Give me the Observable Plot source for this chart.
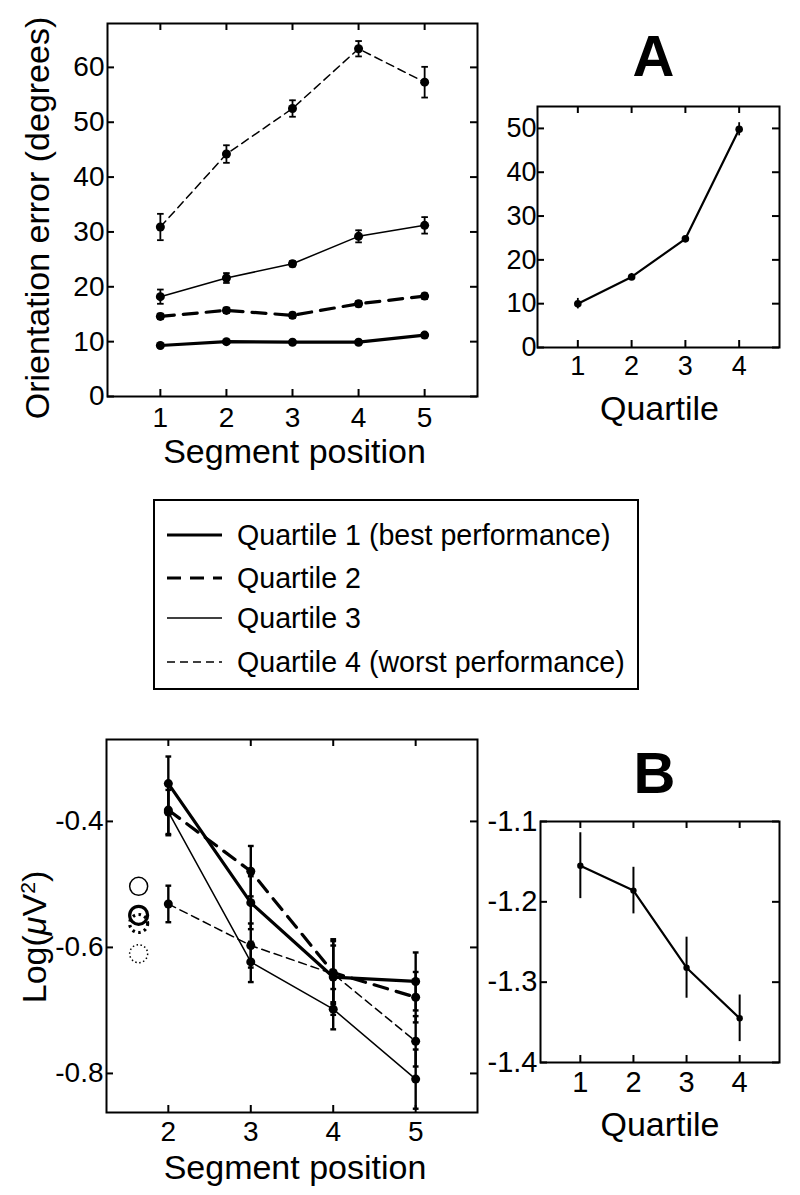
<!DOCTYPE html>
<html><head><meta charset="utf-8">
<script src="https://cdn.jsdelivr.net/npm/d3@7"></script>
<script src="https://cdn.jsdelivr.net/npm/@observablehq/plot@0.6"></script>
<style>
body{margin:0;background:#fff;}
#wrap{position:relative;width:800px;height:1195px;background:#fff;font-family:"Liberation Sans",Arial,Helvetica,sans-serif;}
#wrap svg.panel{position:absolute;overflow:visible;}
.legend{position:absolute;left:153px;top:499px;width:486px;height:191px;border:2px solid #000;box-sizing:border-box;background:#fff;}
.row{position:absolute;left:0;height:28px;width:100%;}
.row svg{position:absolute;left:12px;top:0;}
.row span{position:absolute;left:82px;top:0;font-size:28.6px;line-height:28px;white-space:nowrap;color:#000;}
</style></head><body><div id="wrap"></div><script>
// ---------- data (panel A) ----------
const segPosA = [1, 2, 3, 4, 5];
const orientQ1 = [9.3, 10.0, 9.9, 9.9, 11.2];
const orientQ1Err = [0.3, 0.3, 0.3, 0.3, 0.4];
const orientQ2 = [14.6, 15.7, 14.8, 16.9, 18.3];
const orientQ2Err = [0.5, 0.5, 0.5, 0.5, 0.5];
const orientQ3 = [18.2, 21.6, 24.2, 29.2, 31.2];
const orientQ3Err = [1.3, 0.9, 0.5, 1.1, 1.5];
const orientQ4 = [30.9, 44.2, 52.5, 63.4, 57.3];
const orientQ4Err = [2.4, 1.6, 1.5, 1.4, 2.8];
const quartilesA = [1, 2, 3, 4];
const orientByQuartile = [10.0, 16.1, 24.8, 49.8];
const orientByQuartileErr = [1.2, 0.8, 0.5, 1.5];
// ---------- data (panel B) ----------
const segPosB = [2, 3, 4, 5];
const powQ1 = [-0.340, -0.529, -0.647, -0.654];
const powQ1Err = [0.043, 0.042, 0.060, 0.046];
const powQ2 = [-0.382, -0.479, -0.640, -0.679];
const powQ2Err = [0.040, 0.040, 0.050, 0.040];
const powQ3 = [-0.385, -0.623, -0.698, -0.809];
const powQ3Err = [0.035, 0.032, 0.032, 0.047];
const powQ4 = [-0.531, -0.597, -0.642, -0.749];
const powQ4Err = [0.029, 0.035, 0.045, 0.040];
const baselinePos = 1.64;
const baselinePow = [-0.549, -0.562, -0.503, -0.610];
const quartilesB = [1, 2, 3, 4];
const powByQuartile = [-1.155, -1.186, -1.282, -1.345];
const powByQuartileErr = [0.041, 0.029, 0.038, 0.029];
// ---------- tick values & labels ----------
const ticksA1x = [1, 2, 3, 4, 5];
const ticksA1y = [0, 10, 20, 30, 40, 50, 60];
const ticksA2x = [1, 2, 3, 4];
const ticksA2y = [0, 10, 20, 30, 40, 50];
const ticksB1x = [2, 3, 4, 5];
const ticksB1y = [-0.8, -0.6, -0.4];
const ticksB2x = [1, 2, 3, 4];
const ticksB2y = [-1.4, -1.3, -1.2, -1.1];
const legendLabels = ["Quartile 1 (best performance)", "Quartile 2", "Quartile 3", "Quartile 4 (worst performance)"];

// ---------- styles ----------
const FONT = '"Liberation Sans", Arial, Helvetica, sans-serif';
const seriesStyle = [
  {sw: 3.2, dash: null},
  {sw: 3.2, dash: "14,9"},
  {sw: 1.5, dash: null},
  {sw: 1.5, dash: "8,5"}
];
const wrap = document.getElementById("wrap");
const rows = (xs, ys, es) => xs.map((x, i) => ({x, y: ys[i], e: es[i]}));

function errMarks(data, cap, sw) {
  const m = [Plot.ruleX(data, {x: "x", y1: d => d.y - d.e, y2: d => d.y + d.e, stroke: "black", strokeWidth: sw})];
  if (cap > 0) {
    m.push(Plot.link(data, {x1: d => d.x - cap, x2: d => d.x + cap, y1: d => d.y + d.e, y2: d => d.y + d.e, stroke: "black", strokeWidth: sw}));
    m.push(Plot.link(data, {x1: d => d.x - cap, x2: d => d.x + cap, y1: d => d.y - d.e, y2: d => d.y - d.e, stroke: "black", strokeWidth: sw}));
  }
  return m;
}

function panel(o) {
  const fw = o.width - o.m[3] - o.m[1], fh = o.height - o.m[0] - o.m[2];
  const svg = Plot.plot({
    width: o.width, height: o.height,
    marginTop: o.m[0], marginRight: o.m[1], marginBottom: o.m[2], marginLeft: o.m[3],
    style: {fontFamily: FONT, fontSize: o.tickFont + "px", color: "black", background: "transparent", overflow: "visible"},
    x: {domain: o.xDomain, ticks: o.xTicks, tickSize: 0, tickPadding: o.padX, label: null, tickFormat: d => String(d)},
    y: {domain: o.yDomain, ticks: o.yTicks, tickSize: 0, tickPadding: o.padY, label: null, tickFormat: d => String(d)},
    marks: [
      ...o.marks,
      Plot.tickX(o.xTicks, {x: d => d, insetTop: fh - 7, strokeWidth: 2, stroke: "black"}),
      Plot.tickX(o.xTicks, {x: d => d, insetBottom: fh - 7, strokeWidth: 2, stroke: "black"}),
      Plot.tickY(o.yTicks, {y: d => d, insetLeft: fw - 7, strokeWidth: 2, stroke: "black"}),
      Plot.tickY(o.yTicks, {y: d => d, insetRight: fw - 7, strokeWidth: 2, stroke: "black"}),
      Plot.frame({stroke: "black", strokeWidth: 2})
    ]
  });
  svg.classList.add("panel");
  svg.style.left = o.left + "px";
  svg.style.top = o.top + "px";
  wrap.appendChild(svg);
  return svg;
}

// ---------- Panel A, left ----------
const seriesA = [
  rows(segPosA, orientQ1, orientQ1Err),
  rows(segPosA, orientQ2, orientQ2Err),
  rows(segPosA, orientQ3, orientQ3Err),
  rows(segPosA, orientQ4, orientQ4Err)
];
const marksA1 = [];
seriesA.forEach((s, i) => {
  marksA1.push(...errMarks(s, 0.05, 1.8));
  marksA1.push(Plot.line(s, {x: "x", y: "y", stroke: "black", strokeWidth: seriesStyle[i].sw, strokeDasharray: seriesStyle[i].dash}));
  marksA1.push(Plot.dot(s, {x: "x", y: "y", r: 4.5, fill: "black"}));
});
marksA1.push(Plot.text(["Segment position"], {frameAnchor: "bottom", textAnchor: "middle", lineAnchor: "bottom", dx: 2, dy: 66, fontSize: 34}));
marksA1.push(Plot.text(["Orientation error (degrees)"], {frameAnchor: "left", textAnchor: "middle", lineAnchor: "middle", rotate: -90, dx: -69, dy: 8, fontSize: 34}));
panel({left: 0, top: 0, width: 480, height: 470, m: [23, 3, 74, 107],
  xDomain: [0.2, 5.8], yDomain: [0, 68], xTicks: ticksA1x, yTicks: ticksA1y,
  tickFont: 28, padX: 11, padY: 3, marks: marksA1});

// ---------- Panel A, right ----------
const byQA = rows(quartilesA, orientByQuartile, orientByQuartileErr);
panel({left: 480, top: 0, width: 320, height: 430, m: [106, 21, 83, 57],
  xDomain: [0.25, 4.75], yDomain: [0, 55], xTicks: ticksA2x, yTicks: ticksA2y,
  tickFont: 27, padX: 8, padY: 1,
  marks: [
    ...errMarks(byQA, 0, 1.8),
    Plot.line(byQA, {x: "x", y: "y", stroke: "black", strokeWidth: 2.2}),
    Plot.dot(byQA, {x: "x", y: "y", r: 3.8, fill: "black"}),
    Plot.text(["A"], {frameAnchor: "top", textAnchor: "middle", lineAnchor: "bottom", dx: -5, dy: -31, fontSize: 58, fontWeight: "bold"}),
    Plot.text(["Quartile"], {frameAnchor: "bottom", textAnchor: "middle", lineAnchor: "bottom", dx: 1, dy: 72, fontSize: 34})
  ]});

// ---------- Panel B, left ----------
const seriesB = [
  rows(segPosB, powQ1, powQ1Err),
  rows(segPosB, powQ2, powQ2Err),
  rows(segPosB, powQ3, powQ3Err),
  rows(segPosB, powQ4, powQ4Err)
];
const marksB1 = [];
seriesB.forEach((s, i) => {
  marksB1.push(...errMarks(s, 0.035, 2.4));
});
seriesB.forEach((s, i) => {
  marksB1.push(Plot.line(s, {x: "x", y: "y", stroke: "black", strokeWidth: seriesStyle[i].sw, strokeDasharray: seriesStyle[i].dash}));
  marksB1.push(Plot.dot(s, {x: "x", y: "y", r: 4.5, fill: "black"}));
});
const baseDash = [null, "2.5,3.5", null, "1.5,2.5"];
baselinePow.forEach((v, i) => {
  marksB1.push(Plot.dot([{x: baselinePos, y: v}], {x: "x", y: "y", r: 9, fill: "none", stroke: "black",
    strokeWidth: i === 1 ? 3.2 : (i === 0 ? 3.2 : 1.5), strokeDasharray: baseDash[i]}));
});
marksB1.push(Plot.text(["Segment position"], {frameAnchor: "bottom", textAnchor: "middle", lineAnchor: "bottom", dx: 3, dy: 66, fontSize: 34}));
marksB1.push(Plot.text(["Log(μV2)"], {frameAnchor: "left", textAnchor: "middle", lineAnchor: "middle", rotate: -90, dx: -71, dy: 11, fontSize: 34}));
const svgB1 = panel({left: 0, top: 700, width: 480, height: 495, m: [39, 3, 83, 106],
  xDomain: [1.25, 5.75], yDomain: [-0.862, -0.27], xTicks: ticksB1x, yTicks: ticksB1y,
  tickFont: 28, padX: 9, padY: 3, marks: marksB1});
d3.select(svgB1).selectAll("text").filter(function() { return this.textContent === "Log(μV2)"; })
  .html('Log(<tspan font-style="italic">μ</tspan>V<tspan baseline-shift="super" font-size="0.62em">2</tspan>)');

// ---------- Panel B, right ----------
const byQB = rows(quartilesB, powByQuartile, powByQuartileErr);
panel({left: 480, top: 700, width: 320, height: 495, m: [121, 21, 133, 60],
  xDomain: [0.25, 4.75], yDomain: [-1.4, -1.1], xTicks: ticksB2x, yTicks: ticksB2y,
  tickFont: 29, padX: 9, padY: 3,
  marks: [
    ...errMarks(byQB, 0, 2),
    Plot.line(byQB, {x: "x", y: "y", stroke: "black", strokeWidth: 2.2}),
    Plot.dot(byQB, {x: "x", y: "y", r: 3.2, fill: "black"}),
    Plot.text(["B"], {frameAnchor: "top", textAnchor: "middle", lineAnchor: "bottom", dx: -5.5, dy: -29, fontSize: 58, fontWeight: "bold"}),
    Plot.text(["Quartile"], {frameAnchor: "bottom", textAnchor: "middle", lineAnchor: "bottom", dx: 0, dy: 73, fontSize: 34})
  ]});

// ---------- Legend ----------
const legend = document.createElement("div");
legend.className = "legend";
const rowCenters = [34, 77, 117, 161];
legendLabels.forEach((lab, i) => {
  const r = document.createElement("div");
  r.className = "row";
  r.style.top = (rowCenters[i] - 14) + "px";
  const st = seriesStyle[i];
  r.innerHTML = `<svg width="58" height="28"><line x1="0" x2="55" y1="14" y2="14" stroke="black" stroke-width="${st.sw}" ${st.dash ? `stroke-dasharray="${st.dash}"` : ""}/></svg><span>${lab}</span>`;
  legend.appendChild(r);
});
wrap.appendChild(legend);
</script></body></html>
